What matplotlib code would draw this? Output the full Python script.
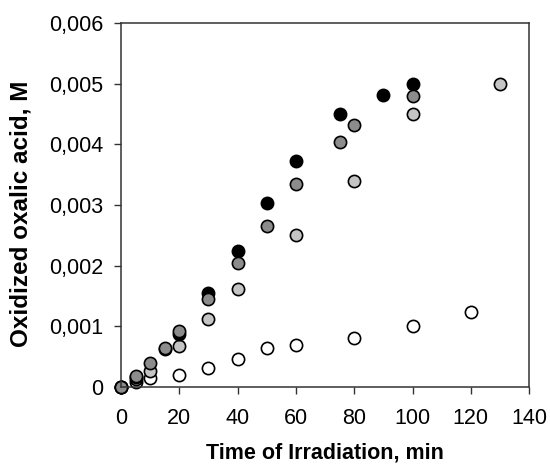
import matplotlib.pyplot as plt
from matplotlib.ticker import FuncFormatter

plt.rcParams['font.family'] = ['Liberation Sans', 'DejaVu Sans']

# series (time in min, oxidized oxalic acid in M)
t_black = [0, 5, 15, 20, 30, 40, 50, 60, 75, 90, 100]
c_black = [0, 0.00017, 0.00062, 0.00088, 0.00155, 0.00224, 0.00304, 0.00373, 0.0045, 0.00482, 0.005]

t_dark = [0, 5, 10, 15, 20, 30, 40, 50, 60, 75, 80, 100]
c_dark = [0, 0.00018, 0.0004, 0.00064, 0.00093, 0.00145, 0.00205, 0.00265, 0.00335, 0.00403, 0.00431, 0.0048]

t_light = [0, 5, 10, 20, 30, 40, 60, 80, 100, 130]
c_light = [0, 0.00014, 0.00026, 0.00068, 0.00112, 0.00161, 0.00251, 0.0034, 0.0045, 0.005]

t_white = [0, 5, 10, 20, 30, 40, 50, 60, 80, 100, 120]
c_white = [0, 0.00008, 0.00015, 0.0002, 0.00032, 0.00046, 0.00065, 0.0007, 0.00081, 0.001, 0.00123]

x_ticks = [0, 20, 40, 60, 80, 100, 120, 140]
y_ticks = [0, 0.001, 0.002, 0.003, 0.004, 0.005, 0.006]

fig = plt.figure(figsize=(5.5, 4.68), dpi=100)
ax = fig.add_axes([0.22, 0.173, 0.742, 0.778])

style = dict(linestyle='none', marker='o', markersize=8.8,
             markeredgecolor='black', markeredgewidth=1.2, clip_on=False)
ax.plot(t_white, c_white, markerfacecolor='white', **style)
ax.plot(t_light, c_light, markerfacecolor='#c4c4c4', **style)
ax.plot(t_black, c_black, markerfacecolor='black', **style)
ax.plot(t_dark, c_dark, markerfacecolor='#8c8c8c', **style)

ax.set_xlim(0, 140)
ax.set_ylim(0, 0.006)
ax.set_xticks(x_ticks)
ax.set_yticks(y_ticks)


def comma_fmt(v, pos):
    if v == 0:
        return '0'
    return f'{v:.3f}'.replace('.', ',')


ax.yaxis.set_major_formatter(FuncFormatter(comma_fmt))
ax.tick_params(direction='out', length=5, width=1, color='#333333',
               labelsize=15.5, top=False, right=False)
ax.tick_params(axis='x', pad=10)
ax.tick_params(axis='y', pad=8)
for sp in ax.spines.values():
    sp.set_color('#333333')
    sp.set_linewidth(1.1)

ax.set_xlabel('Time of Irradiation, min', fontsize=15.5, fontweight='bold')
ax.set_ylabel('Oxidized oxalic acid, M', fontsize=17.5, fontweight='bold')
ax.xaxis.set_label_coords(0.5, -0.152)
ax.yaxis.set_label_coords(-0.218, 0.475)

fig.savefig('out.png', dpi=100)
